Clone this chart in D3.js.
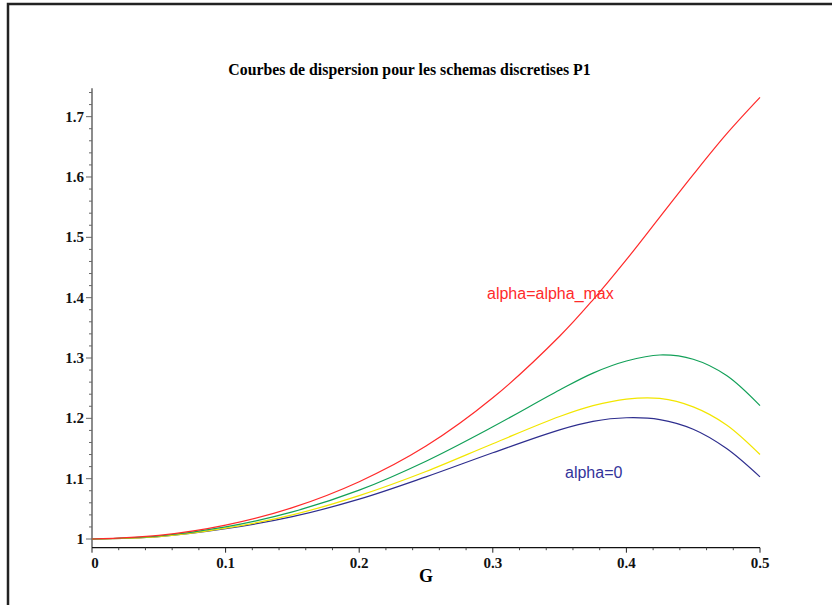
<!DOCTYPE html>
<html>
<head>
<meta charset="utf-8">
<script src="https://cdn.jsdelivr.net/npm/d3@7"></script>
<style>
  body { margin: 0; background: #fff; }
  svg { display: block; }
  .tick-label { font-family: "Liberation Serif", "Times New Roman", serif; font-weight: bold; font-size: 15px; fill: #111; }
</style>
</head>
<body>
<svg id="dispersion"></svg>
<script>
// values (G in [0, 0.5])
var gValues = [0, 0.05, 0.1, 0.15, 0.2, 0.25, 0.3, 0.35, 0.375, 0.4, 0.425, 0.45, 0.475, 0.5];
var alphaMax = [1.000, 1.006, 1.023, 1.052, 1.095, 1.154, 1.234, 1.336, 1.3965, 1.463, 1.5335, 1.604, 1.6715, 1.732];
var greenSerie = [1.000, 1.005, 1.020, 1.045, 1.081, 1.129, 1.186, 1.247, 1.275, 1.295, 1.305, 1.298, 1.271, 1.221];
var yellowSerie = [1.000, 1.004, 1.018, 1.040, 1.072, 1.112, 1.158, 1.203, 1.221, 1.232, 1.233, 1.219, 1.189, 1.140];
var alphaZero = [1.000, 1.004, 1.017, 1.037, 1.066, 1.103, 1.143, 1.181, 1.195, 1.201, 1.198, 1.182, 1.150, 1.103];

var xTicks = [0, 0.1, 0.2, 0.3, 0.4, 0.5];
var yTicks = [1, 1.1, 1.2, 1.3, 1.4, 1.5, 1.6, 1.7];
var titleText = "Courbes de dispersion pour les schemas discretises P1";

const W = 832, H = 605;

var svg = d3.select("#dispersion")
    .attr("width", W)
    .attr("height", H);

// frame of the plot window (only top and left edges are visible)
svg.append("rect")
    .attr("x", 8).attr("y", 4)
    .attr("width", W + 20).attr("height", H + 20)
    .attr("fill", "none")
    .attr("stroke", "#222")
    .attr("stroke-width", 2.5);

// scales
var xScale = d3.scaleLinear()
    .domain([0, 0.5])
    .range([92, 760]);

var yScale = d3.scaleLinear()
    .domain([0.9856, 1.747])
    .range([547.7, 88.3]);

// minor ticks every 0.02
var xMinor = d3.range(0.02, 0.5, 0.02).filter(function (d) {
    return Math.abs(d * 10 - Math.round(d * 10)) > 1e-6;
});
var yMinor = d3.range(1.02, 1.745, 0.02).filter(function (d) {
    return Math.abs(d * 10 - Math.round(d * 10)) > 1e-6;
});

// y axis
var yAxis = svg.append("g").attr("class", "y axis");
yAxis.append("line")
    .attr("x1", xScale(0)).attr("x2", xScale(0))
    .attr("y1", yScale.range()[0]).attr("y2", yScale.range()[1])
    .attr("stroke", "#666").attr("stroke-width", 1.5);
yAxis.selectAll(".ymin").data(yMinor).enter().append("line")
    .attr("x1", xScale(0) - 3).attr("x2", xScale(0))
    .attr("y1", function (d) { return yScale(d); })
    .attr("y2", function (d) { return yScale(d); })
    .attr("stroke", "#666").attr("stroke-width", 1);
yAxis.selectAll(".ymaj").data(yTicks).enter().append("line")
    .attr("x1", xScale(0) - 6).attr("x2", xScale(0))
    .attr("y1", function (d) { return yScale(d); })
    .attr("y2", function (d) { return yScale(d); })
    .attr("stroke", "#666").attr("stroke-width", 1);
yAxis.selectAll("text").data(yTicks).enter().append("text")
    .attr("class", "tick-label")
    .attr("x", xScale(0) - 8)
    .attr("y", function (d) { return yScale(d) + 5; })
    .attr("text-anchor", "end")
    .text(function (d) { return d === 1 ? "1" : d3.format(".1f")(d); });

// x axis
var xAxis = svg.append("g").attr("class", "x axis");
xAxis.append("line")
    .attr("x1", xScale(0)).attr("x2", xScale(0.5))
    .attr("y1", yScale.range()[0]).attr("y2", yScale.range()[0])
    .attr("stroke", "#111").attr("stroke-width", 1.3);
xAxis.selectAll(".xmin").data(xMinor).enter().append("line")
    .attr("x1", function (d) { return xScale(d); })
    .attr("x2", function (d) { return xScale(d); })
    .attr("y1", yScale.range()[0]).attr("y2", yScale.range()[0] + 2.5)
    .attr("stroke", "#444").attr("stroke-width", 1);
xAxis.selectAll(".xmaj").data(xTicks).enter().append("line")
    .attr("x1", function (d) { return xScale(d); })
    .attr("x2", function (d) { return xScale(d); })
    .attr("y1", yScale.range()[0]).attr("y2", yScale.range()[0] + 5)
    .attr("stroke", "#222").attr("stroke-width", 1);
xAxis.selectAll("text").data(xTicks).enter().append("text")
    .attr("class", "tick-label")
    .attr("x", function (d) { return xScale(d) + (d === 0 ? 3 : 0); })
    .attr("y", 567.5)
    .attr("text-anchor", "middle")
    .text(function (d) { return d === 0 ? "0" : d3.format(".1f")(d); });

// axis title
svg.append("text")
    .attr("x", 426).attr("y", 582)
    .attr("text-anchor", "middle")
    .style("font-family", "'Liberation Serif', serif")
    .style("font-weight", "bold")
    .style("font-size", "18px")
    .text("G");

// title
svg.append("text")
    .attr("x", 409.5).attr("y", 75)
    .attr("text-anchor", "middle")
    .style("font-family", "'Liberation Serif', serif")
    .style("font-weight", "bold")
    .style("font-size", "15.8px")
    .text(titleText);

// line generator
var line = d3.line()
    .x(function (d, i) { return xScale(gValues[i]); })
    .y(function (d) { return yScale(d); })
    .curve(d3.curveCatmullRom.alpha(0.5));

var series = [
    { values: alphaZero, color: "#2e2e8e" },
    { values: yellowSerie, color: "#f2e600" },
    { values: greenSerie, color: "#12a058" },
    { values: alphaMax, color: "#ff2a2a" }
];

series.forEach(function (s) {
    svg.append("path")
        .datum(s.values)
        .attr("fill", "none")
        .attr("stroke", s.color)
        .attr("stroke-width", 1.2)
        .attr("d", line);
});

// curve labels
svg.append("text")
    .attr("x", 487).attr("y", 298.5)
    .style("font-family", "'Liberation Sans', Arial, sans-serif")
    .style("font-size", "16px")
    .attr("fill", "#ff2a2a")
    .text("alpha=alpha_max");

svg.append("text")
    .attr("x", 565).attr("y", 477.5)
    .style("font-family", "'Liberation Sans', Arial, sans-serif")
    .style("font-size", "16px")
    .attr("fill", "#33339a")
    .text("alpha=0");
</script>
</body>
</html>
